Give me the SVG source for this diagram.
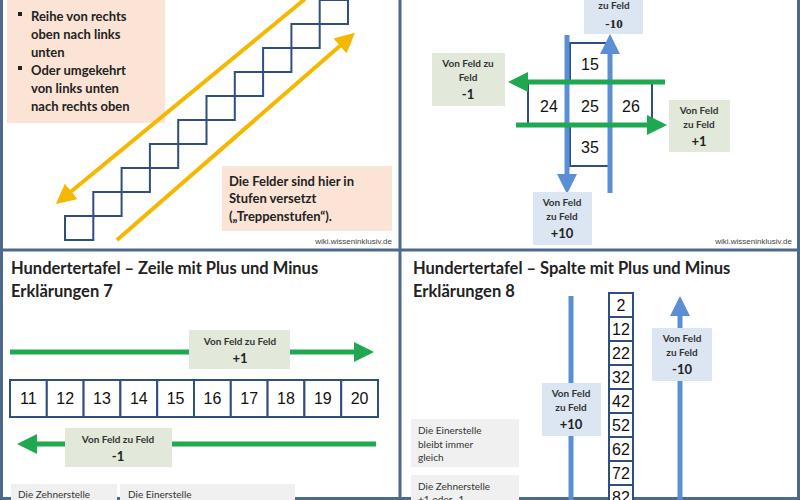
<svg xmlns="http://www.w3.org/2000/svg" width="800" height="500" viewBox="0 0 800 500">
<defs>
<style>
.t{font-family:Lato,"Noto Sans",sans-serif;fill:#222}
.b{font-size:13px;font-weight:bold}
.lab{font-size:10px;font-weight:bold;fill:#333;text-anchor:middle}
.big{font-size:13px;font-weight:bold;text-anchor:middle;fill:#222}
.n{font-family:"Liberation Sans",Arial,sans-serif;font-size:16px;text-anchor:middle;fill:#111}
.cell{fill:#fff;stroke:#2f4f7f;stroke-width:2}
.ttl{font-size:16.5px;font-weight:bold;fill:#222}
.wm{font-family:"Liberation Sans",Arial,sans-serif;font-size:8px;fill:#444;text-anchor:end}
.y{stroke:#f5b800;stroke-width:4;fill:none}
.g{stroke:#1fa84f;stroke-width:5;fill:none}
.bl{stroke:#5a8fd6;stroke-width:5;fill:none}
.gb{fill:#e2e9da}.bb{fill:#dce5f2}.pb{fill:#fbe4d5}.gy{fill:#f0f0f0}
.sm{font-size:10px;fill:#333}
</style>
<marker id="ay" markerWidth="5" markerHeight="5" refX="3" refY="2.5" orient="auto" markerUnits="strokeWidth"><path d="M0,0L5,2.5L0,5z" fill="#f5b800"/></marker>
<marker id="ag" markerWidth="5" markerHeight="4" refX="3" refY="2" orient="auto" markerUnits="strokeWidth"><path d="M0,0L4,2L0,4z" fill="#1fa84f"/></marker>
<marker id="ab" markerWidth="4" markerHeight="4" refX="2" refY="2" orient="auto" markerUnits="strokeWidth"><path d="M0,0L4,2L0,4z" fill="#5a8fd6"/></marker>
</defs>
<rect width="800" height="500" fill="#fff"/>
<g id="frame" fill="none" stroke="#4d6a8c" stroke-width="3">
<rect x="1.5" y="-2" width="797" height="500.5"/>
<line x1="400" y1="0" x2="400" y2="500"/>
<line x1="0" y1="250" x2="800" y2="250"/>
</g>

<!-- Panel 1 -->
<g id="p1-text1">
<rect class="pb" x="7" y="0" width="158" height="123"/>
<rect x="18" y="12" width="4" height="4" fill="#222"/>
<rect x="18" y="66" width="4" height="4" fill="#222"/>
<text class="t b" x="31" y="21">Reihe von rechts</text>
<text class="t b" x="31" y="39">oben nach links</text>
<text class="t b" x="31" y="57">unten</text>
<text class="t b" x="31" y="75">Oder umgekehrt</text>
<text class="t b" x="31" y="93">von links unten</text>
<text class="t b" x="31" y="111">nach rechts oben</text>
</g>
<g id="stairs" fill="none" stroke="#2f4f7f" stroke-width="2">
<rect x="65" y="216" width="28.3" height="24"/>
<rect x="93.3" y="192" width="28.3" height="24"/>
<rect x="121.6" y="168" width="28.3" height="24"/>
<rect x="149.9" y="144" width="28.3" height="24"/>
<rect x="178.2" y="120" width="28.3" height="24"/>
<rect x="206.5" y="96" width="28.3" height="24"/>
<rect x="234.8" y="72" width="28.3" height="24"/>
<rect x="263.1" y="48" width="28.3" height="24"/>
<rect x="291.4" y="24" width="28.3" height="24"/>
<rect x="319.7" y="0" width="28.3" height="24"/>
</g>
<g id="p1-arrows">
<line class="y" x1="305" y1="-1" x2="62" y2="199" marker-end="url(#ay)"/>
<line class="y" x1="117" y1="240" x2="349" y2="38" marker-end="url(#ay)"/>
</g>
<g id="p1-text2">
<rect class="pb" x="222" y="166" width="170" height="65"/>
<text class="t b" x="229" y="186">Die Felder sind hier in</text>
<text class="t b" x="229" y="203">Stufen versetzt</text>
<text class="t b" x="229" y="221">(„Treppenstufen“).</text>
</g>
<text class="wm" x="392" y="244">wiki.wisseninklusiv.de</text>

<!-- Panel 2 -->
<g id="cells2">
<rect class="cell" x="570" y="43" width="39" height="40"/>
<rect class="cell" x="528" y="83" width="124" height="42"/>
<rect class="cell" x="570" y="125" width="39" height="41"/>
<text class="n" x="590" y="70">15</text>
<text class="n" x="549" y="112">24</text>
<text class="n" x="590" y="112">25</text>
<text class="n" x="631" y="112">26</text>
<text class="n" x="590" y="153">35</text>
</g>
<g id="conn2">
<line class="bl" x1="567" y1="35" x2="567" y2="184" marker-end="url(#ab)"/>
<line class="bl" x1="610" y1="193" x2="610" y2="44" marker-end="url(#ab)"/>
<line class="g" x1="665" y1="82" x2="513" y2="82" marker-end="url(#ag)"/>
<line class="g" x1="516" y1="125" x2="662" y2="125" marker-end="url(#ag)"/>
</g>
<g id="l2top"><rect class="bb" x="584" y="-2" width="59" height="36"/>
<text class="t lab" x="614" y="9">zu Feld</text><text class="big" x="614" y="28">-10</text></g>
<g id="l2left"><rect class="gb" x="432" y="53" width="73" height="53"/>
<text class="t lab" x="468" y="67">Von Feld zu</text><text class="t lab" x="468" y="81">Feld</text><text class="t big" x="468" y="99">-1</text></g>
<g id="l2right"><rect class="gb" x="669" y="100" width="61" height="52"/>
<text class="t lab" x="699" y="114">Von Feld</text><text class="t lab" x="699" y="128">zu Feld</text><text class="t big" x="699" y="146">+1</text></g>
<g id="l2bot"><rect class="bb" x="533" y="192" width="59" height="53"/>
<text class="t lab" x="562" y="206">Von Feld</text><text class="t lab" x="562" y="220">zu Feld</text><text class="t big" x="562" y="238">+10</text></g>
<text class="wm" x="792" y="244">wiki.wisseninklusiv.de</text>

<!-- Panel 3 -->
<text class="t ttl" x="11" y="274">Hundertertafel – Zeile mit Plus und Minus</text>
<text class="t ttl" x="11" y="297">Erklärungen 7</text>
<g id="conn3">
<line class="g" x1="10" y1="352" x2="189" y2="352"/>
<line class="g" x1="290" y1="352" x2="369" y2="352" marker-end="url(#ag)"/>
<line class="g" x1="376" y1="444" x2="172" y2="444"/>
<line class="g" x1="65" y1="444" x2="22" y2="444" marker-end="url(#ag)"/>
</g>
<g id="l3a"><rect class="gb" x="189" y="330" width="101" height="39"/>
<text class="t lab" x="240" y="345">Von Feld zu Feld</text><text class="t big" x="240" y="363">+1</text></g>
<g id="row3">
<rect class="cell" x="10" y="380" width="36.8" height="37"/><text class="n" x="28.4" y="404">11</text>
<rect class="cell" x="46.8" y="380" width="36.8" height="37"/><text class="n" x="65.2" y="404">12</text>
<rect class="cell" x="83.6" y="380" width="36.8" height="37"/><text class="n" x="102" y="404">13</text>
<rect class="cell" x="120.4" y="380" width="36.8" height="37"/><text class="n" x="138.8" y="404">14</text>
<rect class="cell" x="157.2" y="380" width="36.8" height="37"/><text class="n" x="175.6" y="404">15</text>
<rect class="cell" x="194" y="380" width="36.8" height="37"/><text class="n" x="212.4" y="404">16</text>
<rect class="cell" x="230.8" y="380" width="36.8" height="37"/><text class="n" x="249.2" y="404">17</text>
<rect class="cell" x="267.6" y="380" width="36.8" height="37"/><text class="n" x="286" y="404">18</text>
<rect class="cell" x="304.4" y="380" width="36.8" height="37"/><text class="n" x="322.8" y="404">19</text>
<rect class="cell" x="341.2" y="380" width="36.8" height="37"/><text class="n" x="359.6" y="404">20</text>
</g>
<g id="l3b"><rect class="gb" x="65" y="428" width="107" height="39"/>
<text class="t lab" x="118" y="443">Von Feld zu Feld</text><text class="t big" x="118" y="461">-1</text></g>
<g id="n3a"><rect class="gy" x="11" y="484" width="106" height="18"/><text class="t sm" x="18" y="498">Die Zehnerstelle</text></g>
<g id="n3b"><rect class="gy" x="120" y="484" width="175" height="18"/><text class="t sm" x="128" y="498">Die Einerstelle</text></g>

<!-- Panel 4 -->
<text class="t ttl" x="413" y="274">Hundertertafel – Spalte mit Plus und Minus</text>
<text class="t ttl" x="413" y="297">Erklärungen 8</text>
<g id="conn4">
<line class="bl" x1="571" y1="296" x2="571" y2="520" marker-end="url(#ab)"/>
<line class="bl" x1="680" y1="500" x2="680" y2="306" marker-end="url(#ab)"/>
</g>
<g id="col4">
<rect class="cell" x="609" y="293" width="24" height="24"/><text class="n" x="621" y="311" font-size="14">2</text>
<rect class="cell" x="609" y="317" width="24" height="24"/><text class="n" x="621" y="335" font-size="14">12</text>
<rect class="cell" x="609" y="341" width="24" height="24"/><text class="n" x="621" y="359" font-size="14">22</text>
<rect class="cell" x="609" y="365" width="24" height="24"/><text class="n" x="621" y="383" font-size="14">32</text>
<rect class="cell" x="609" y="389" width="24" height="24"/><text class="n" x="621" y="407" font-size="14">42</text>
<rect class="cell" x="609" y="413" width="24" height="24"/><text class="n" x="621" y="431" font-size="14">52</text>
<rect class="cell" x="609" y="437" width="24" height="24"/><text class="n" x="621" y="455" font-size="14">62</text>
<rect class="cell" x="609" y="461" width="24" height="24"/><text class="n" x="621" y="479" font-size="14">72</text>
<rect class="cell" x="609" y="485" width="24" height="24"/><text class="n" x="621" y="503" font-size="14">82</text>
</g>
<g id="l4a"><rect class="bb" x="542" y="383" width="59" height="53"/>
<text class="t lab" x="571" y="397">Von Feld</text><text class="t lab" x="571" y="411">zu Feld</text><text class="t big" x="571" y="429">+10</text></g>
<g id="l4b"><rect class="bb" x="652" y="328" width="60" height="53"/>
<text class="t lab" x="682" y="342">Von Feld</text><text class="t lab" x="682" y="356">zu Feld</text><text class="t big" x="682" y="374">-10</text></g>
<g id="n4a"><rect class="gy" x="411" y="419" width="108" height="48"/>
<text class="t sm" x="418" y="434">Die Einerstelle</text><text class="t sm" x="418" y="448">bleibt immer</text><text class="t sm" x="418" y="461">gleich</text></g>
<g id="n4b"><rect class="gy" x="411" y="475" width="108" height="30"/>
<text class="t sm" x="418" y="490">Die Zehnerstelle</text><text class="t sm" x="418" y="503">+1 oder -1</text></g>
</svg>
